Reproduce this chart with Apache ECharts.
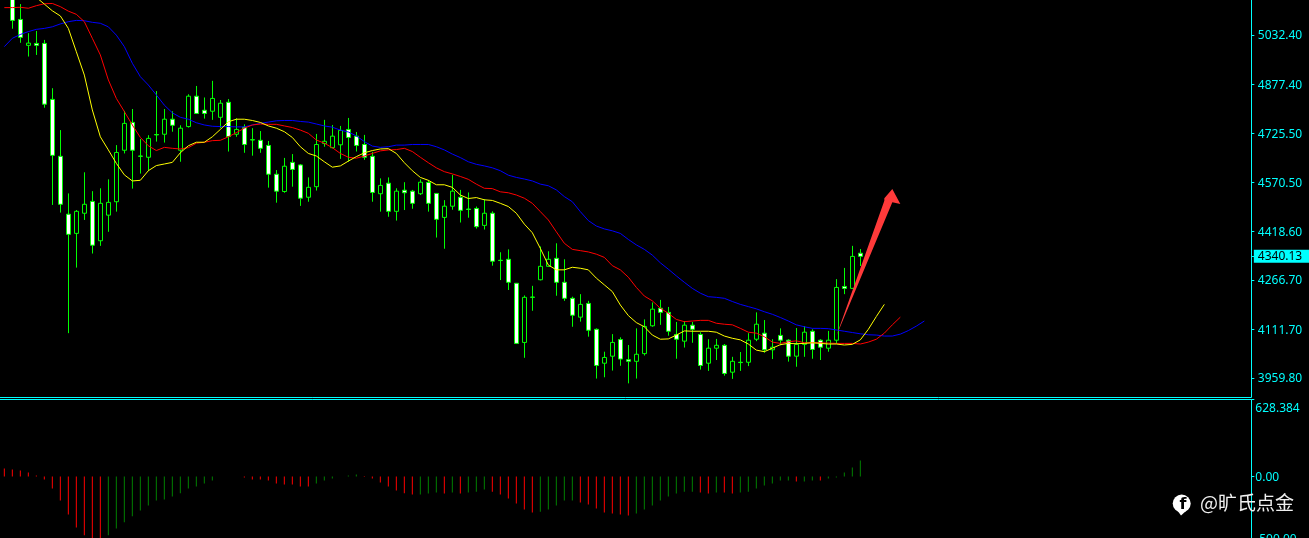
<!DOCTYPE html>
<html><head><meta charset="utf-8">
<style>html,body{margin:0;padding:0;background:#000}#c{width:1309px;height:538px}</style>
<script src="https://cdn.jsdelivr.net/npm/echarts@6/dist/echarts.min.js"></script>
</head><body><div id="c"></div>
<script>
const categories = Array.from({length:156},(_,i)=>String(i));
const opens = [5205,5170,5081,5000,5006,5006,4831,4653,4472,4412,4475,4512,4389,4469,4511,4672,4759,4654,4650,4721,4722,4769,4672,4746,4841,4797,4794,4775,4822,4722,4744,4705,4703,4687,4597,4543,4634,4626,4525,4558,4693,4680,4689,4737,4716,4690,4653,4536,4569,4481,4547,4544,4536,4571,4537,4462,4497,4525,4488,4490,4437,4475,4328,4331,4256,4071,4213,4267,4309,4334,4259,4209,4150,4193,4112,4006,4028,4080,4017,4012,4036,4123,4178,4165,4096,4075,4125,4096,4006,4053,4062,3978,4009,4009,4081,4100,4048,4093,4078,4028,4065,4106,4078,4053,4078,4246,4240,4350];
const closes = [5175,5078,5025,5007,5000,4816,4656,4503,4409,4481,4503,4375,4506,4509,4665,4756,4672,4653,4709,4720,4769,4750,4741,4841,4787,4787,4834,4819,4715,4737,4690,4704,4678,4597,4544,4622,4612,4522,4556,4690,4700,4716,4734,4712,4687,4650,4540,4562,4481,4544,4539,4506,4572,4506,4456,4497,4544,4484,4487,4433,4475,4325,4327,4259,4068,4212,4212,4309,4331,4259,4209,4156,4190,4109,3999,4024,4071,4019,4012,4034,4121,4175,4165,4106,4081,4125,4112,3999,4053,4062,3974,4012,4008,4078,4128,4048,4056,4078,4028,4065,4103,4049,4056,4078,4243,4240,4340,4340.13];
const lows = [5155,5052,5008,4965,4970,4805,4501,4477,4100,4305,4454,4349,4373,4417,4480,4662,4552,4599,4607,4699,4696,4730,4636,4743,4787,4771,4767,4741,4668,4714,4664,4655,4664,4555,4508,4539,4558,4498,4511,4546,4683,4678,4645,4636,4668,4642,4511,4480,4464,4452,4485,4489,4532,4480,4399,4364,4486,4446,4461,4427,4424,4311,4266,4235,4067,4023,4170,4265,4308,4217,4201,4120,4136,4089,3958,3962,3983,3998,3943,3958,4030,4120,4126,4092,4020,4055,4070,3986,3982,4016,3967,3957,3982,3997,4075,4039,4019,4062,4011,3995,4026,4020,4016,4042,4066,4222,4239,4310];
const highs = [5230,5190,5129,5038,5045,5017,4866,4735,4537,4485,4603,4544,4553,4581,4688,4795,4801,4707,4719,4857,4801,4794,4750,4847,4873,4837,4889,4829,4832,4772,4753,4741,4732,4701,4610,4648,4660,4629,4587,4723,4767,4751,4748,4773,4729,4720,4667,4584,4587,4553,4572,4548,4581,4579,4537,4516,4595,4548,4540,4496,4519,4481,4353,4362,4256,4218,4248,4371,4356,4381,4331,4214,4222,4201,4115,4042,4097,4087,4063,4115,4143,4196,4204,4182,4135,4138,4135,4103,4081,4082,4066,4026,4041,4100,4165,4141,4081,4115,4081,4116,4122,4112,4081,4107,4269,4304,4373,4363];
const lipsYellow = [5170,5175,5178,5170,5150,5129,5108,5092,5053,4980,4907,4798,4714,4673,4631,4595,4576,4578,4608,4624,4629,4634,4664,4686,4697,4697,4714,4737,4761,4769,4769,4765,4759,4748,4741,4730,4712,4683,4662,4654,4636,4619,4623,4638,4652,4664,4671,4676,4677,4662,4633,4608,4587,4578,4564,4564,4556,4532,4521,4524,4517,4515,4506,4496,4475,4441,4414,4365,4313,4298,4298,4306,4303,4298,4272,4251,4230,4188,4155,4133,4120,4094,4081,4082,4094,4107,4106,4106,4106,4103,4091,4084,4079,4066,4047,4042,4053,4064,4068,4067,4068,4070,4068,4066,4066,4063,4065,4079,4112,4152,4190];
const teethRed = [5118,5118,5119,5116,5124,5130,5131,5121,5107,5097,5074,5022,4970,4892,4834,4793,4751,4712,4686,4671,4681,4678,4676,4680,4694,4697,4702,4703,4714,4727,4741,4751,4754,4753,4753,4748,4743,4735,4725,4704,4694,4680,4662,4650,4647,4654,4662,4670,4673,4674,4678,4668,4650,4633,4617,4605,4598,4590,4581,4566,4553,4552,4542,4539,4532,4522,4506,4480,4454,4417,4381,4362,4358,4354,4347,4337,4311,4298,4275,4243,4216,4201,4178,4162,4143,4136,4138,4140,4140,4131,4128,4126,4115,4103,4100,4089,4072,4068,4073,4076,4070,4070,4070,4069,4068,4068,4068,4066,4072,4081,4100,4126,4150];
const jawBlue = [4996,5022,5034,5043,5050,5053,5058,5067,5074,5078,5077,5072,5069,5058,5032,4996,4944,4902,4876,4845,4813,4789,4775,4769,4758,4751,4747,4746,4746,4745,4745,4751,4756,4760,4764,4765,4765,4762,4760,4754,4748,4744,4735,4729,4717,4699,4685,4681,4683,4688,4688,4690,4690,4690,4683,4673,4660,4649,4636,4628,4623,4617,4608,4594,4587,4582,4576,4566,4561,4548,4527,4511,4480,4452,4435,4426,4420,4412,4393,4376,4362,4344,4320,4300,4279,4259,4240,4225,4214,4212,4209,4199,4190,4183,4176,4167,4159,4149,4138,4126,4120,4115,4115,4114,4110,4106,4102,4098,4095,4094,4091,4091,4097,4108,4122,4138];
const aoValues = [65,57,49,32,8,-24,-97,-194,-308,-413,-475,-510,-520,-475,-421,-370,-321,-275,-235,-194,-186,-162,-135,-97,-81,-57,-32,null,null,null,-8,-24,-24,-32,-57,-65,-65,-81,-81,-57,-32,-16,null,8,16,-4,-16,-49,-81,-113,-135,-146,-146,-138,-130,-138,-130,-138,-130,-122,-105,-122,-146,-178,-219,-267,-292,-284,-267,-235,-194,-194,-211,-227,-259,-292,-300,-308,-316,-300,-267,-235,-194,-162,-138,-122,-122,-130,-138,-130,-130,-138,-130,-122,-97,-73,-57,-32,-32,-40,-40,-32,-32,-16,-8,32,73,130];
const aoFallingList = [1,1,1,1,1,1,1,1,1,1,1,1,1,0,0,0,0,0,0,0,0,0,0,0,0,0,0,0,0,0,1,1,1,1,1,1,1,1,1,0,0,0,0,0,0,1,1,1,1,1,1,1,0,0,0,1,0,1,0,0,0,1,1,1,1,1,1,0,0,0,0,0,1,1,1,1,1,1,1,0,0,0,0,0,0,0,0,1,1,0,1,1,0,0,0,0,0,0,0,1,0,0,1,0,0,0,0,0];
const priceTicks = [5032.40,4877.40,4725.50,4570.50,4418.60,4340.13,4266.70,4111.70,3959.80];
const currentPrice = 4340.13;
const aoTicks = [628.384,0,-500];
const arrowIndex = [103.96,110.3,109.87,111.34,111.6,110.94];
const arrowPrice = [4091,4514,4522,4551,4504,4509];

const CY='#00ffff', FONT='"Noto Sans", sans-serif';
const chart = echarts.init(document.getElementById('c'), null, {renderer:'canvas'});
const lineS=(name,data,color)=>({name,type:'line',data,xAxisIndex:0,yAxisIndex:0,showSymbol:false,symbol:'none',smooth:false,silent:true,animation:false,z:5,lineStyle:{color,width:1}});
chart.setOption({
  animation:false, backgroundColor:'#000',
  grid:[
    {left:0.33,top:0,width:1248,height:397.5,outerBoundsMode:'none'},
    {left:0.33,top:399,width:1248,height:139.3,outerBoundsMode:'none'},
    {left:-5,top:-5,width:1256.5,height:402.5,show:true,backgroundColor:'transparent',borderColor:CY,borderWidth:1,outerBoundsMode:'none'},
    {left:-5,top:399.5,width:1256.5,height:200,show:true,backgroundColor:'transparent',borderColor:CY,borderWidth:1,outerBoundsMode:'none'}
  ],
  xAxis:[
    {type:'category',gridIndex:0,data:categories,show:false},
    {type:'category',gridIndex:1,data:categories,show:false},
    {type:'value',gridIndex:2,show:false},
    {type:'value',gridIndex:3,show:false}
  ],
  yAxis:[
    {type:'value',gridIndex:0,position:'right',offset:3,min:3898.8,max:5141.8,splitLine:{show:false},axisLine:{show:false},
     axisTick:{show:true,length:3,lineStyle:{color:CY},customValues:priceTicks},
     axisLabel:{show:true,color:CY,fontFamily:FONT,fontSize:12,margin:2.5,customValues:priceTicks,
       formatter:v=>(Math.abs(v-currentPrice)<0.001?'{cur|':'{n|')+v.toFixed(2)+'}',
       rich:{
         n:{color:CY,fontFamily:FONT,fontSize:12,padding:[2,0,0,4]},
         cur:{color:'#000',backgroundColor:CY,fontFamily:FONT,fontSize:12,padding:[1,7,0,4],lineHeight:13}
       }}},
    {type:'value',gridIndex:1,position:'right',offset:3,min:-500,max:628.384,splitLine:{show:false},axisLine:{show:false},
     axisTick:{show:true,length:3,lineStyle:{color:CY},customValues:aoTicks},
     axisLabel:{show:true,color:CY,fontFamily:FONT,fontSize:12,margin:4,customValues:aoTicks,
       formatter:v=>v>600?'{top|'+v.toFixed(3)+'}':'{n|'+v.toFixed(2)+'}',
       rich:{
         top:{color:CY,fontFamily:FONT,fontSize:12,padding:[20,0,0,0]},
         n:{color:CY,fontFamily:FONT,fontSize:12,padding:[3,0,0,0]}
       }}},
    {type:'value',gridIndex:2,show:false},
    {type:'value',gridIndex:3,show:false}
  ],
  series:[
    {name:'Price',type:'candlestick',xAxisIndex:0,yAxisIndex:0,barWidth:4,z:3,silent:true,
     data:opens.map((o,i)=>[o,closes[i],lows[i],highs[i]]),
     itemStyle:{color:'#000000',color0:'#ffffff',borderColor:'#00ff00',borderColor0:'#00ff00',borderWidth:1}},
    lineS('Jaw',jawBlue,'#0000ff'),
    lineS('Teeth',teethRed,'#ff0000'),
    lineS('Lips',lipsYellow,'#ffff00'),
    {name:'AO',type:'bar',xAxisIndex:1,yAxisIndex:1,barWidth:1,silent:true,
     data:aoValues.map((v,i)=>({value:v,itemStyle:{color:aoFallingList[i]?'#ff0000':'#008000'}}))},
    {name:'Arrow',type:'custom',xAxisIndex:0,yAxisIndex:0,z:8,silent:true,clip:false,
     data:[[arrowIndex[0],arrowPrice[0]]],
     renderItem:(p,api)=>({type:'polygon',shape:{points:arrowIndex.map((x,k)=>api.coord([x,arrowPrice[k]]))},style:{fill:'#ff3a3a'}})}
  ],
  graphic:{elements:[
    {type:'circle',shape:{cx:1181.7,cy:503.5,r:9},style:{fill:'#fff'},z:20},
    {type:'polygon',shape:{points:[[1177,510],[1186,511],[1181,515.5]]},style:{fill:'#fff'},z:20},
    {type:'text',x:1183,y:504.5,style:{text:'f',fill:'#000',font:'bold 16px "DejaVu Sans"',textAlign:'center',textVerticalAlign:'middle'},z:21},
    {type:'text',x:1200,y:502.5,style:{text:'@旷氏点金',fill:'#f0f0f0',font:'19px "Noto Sans CJK SC"',textAlign:'left',textVerticalAlign:'middle'},z:21}
  ]}
});
</script></body></html>
